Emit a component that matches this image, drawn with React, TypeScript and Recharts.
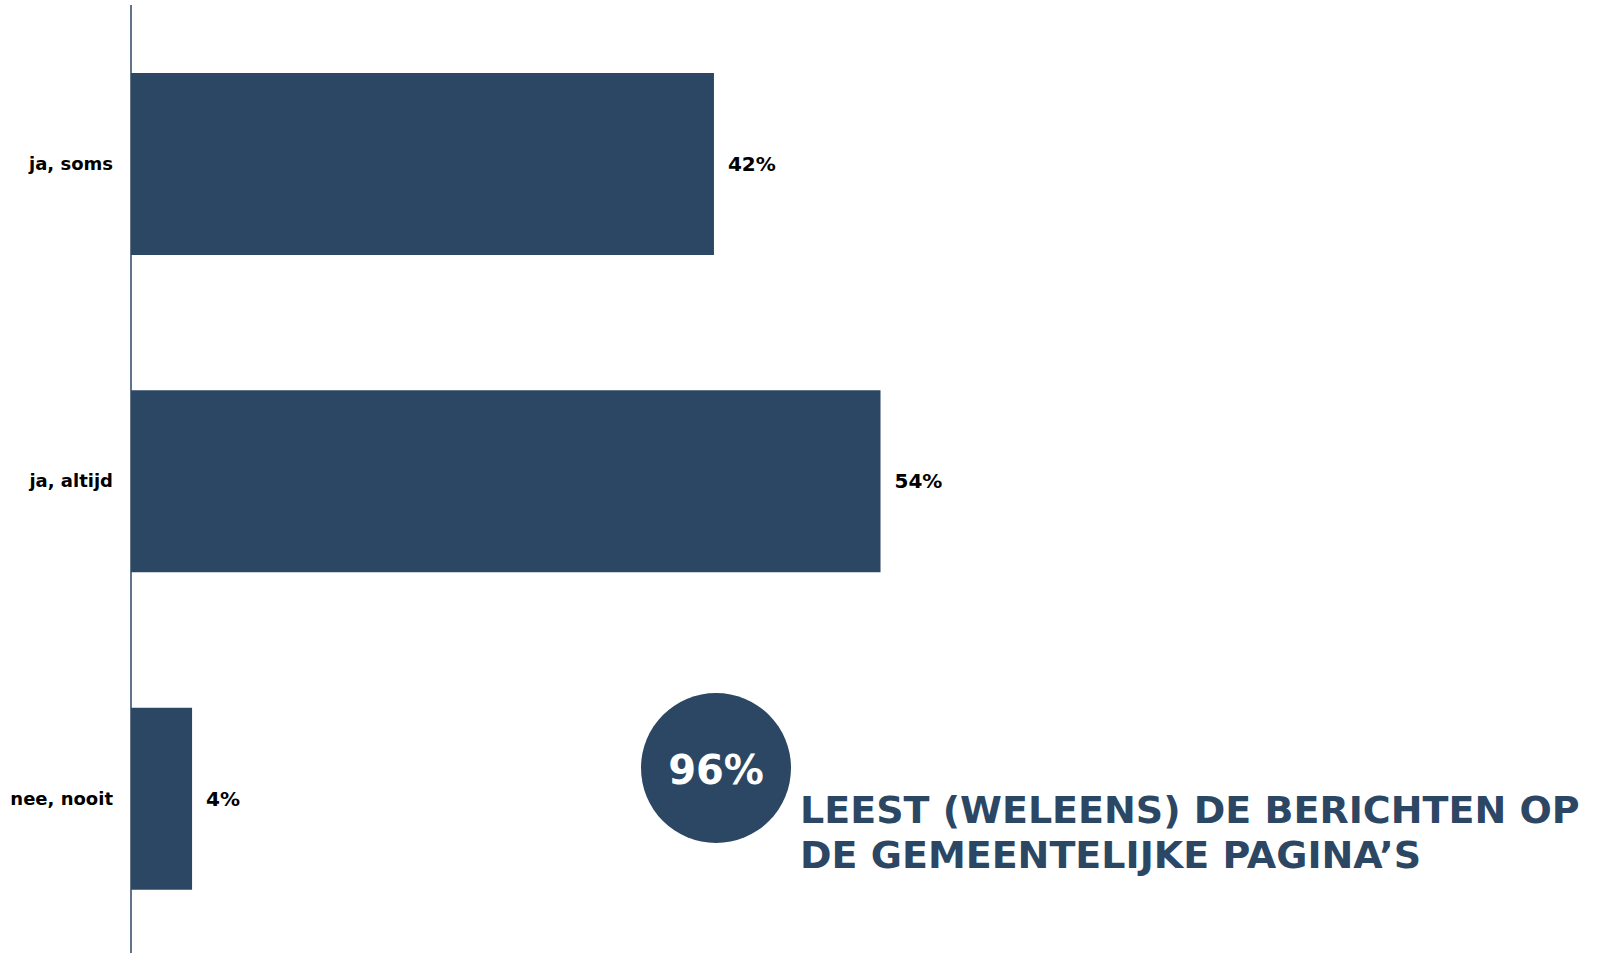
import React from 'react';
import { BarChart, Bar, XAxis, YAxis, LabelList } from 'recharts';

const categories = ['ja, soms', 'ja, altijd', 'nee, nooit'];
const shares = [42, 54, 4.4];

const headline = '96%';
const captionLines = ['LEEST (WELEENS) DE BERICHTEN OP', 'DE GEMEENTELIJKE PAGINA\u2019S'];

const NAVY = '#2C4763';
const FONT = '"DejaVu Sans", Verdana, sans-serif';

const App: React.FC = () => {
  const chartData = categories.map((name, i) => ({ name, value: shares[i] }));

  return (
    <div style={{ position: 'absolute', left: 0, top: 0, width: 1599, height: 953, overflow: 'hidden', background: '#fff', fontFamily: FONT }}>
      <BarChart
        width={1599}
        height={957}
        data={chartData}
        layout="vertical"
        margin={{ top: 5, right: 80, left: 0, bottom: 0 }}
      >
        <XAxis type="number" domain={[0, 100]} hide />
        <YAxis
          type="category"
          dataKey="name"
          width={131}
          axisLine={{ stroke: NAVY, strokeWidth: 1.5 }}
          tickLine={false}
          tickSize={6}
          tickMargin={12}
          tick={{ fill: '#000', fontSize: 18, fontWeight: 'bold', fontFamily: FONT }}
        />
        <Bar dataKey="value" fill={NAVY} barSize={182} isAnimationActive={false}>
          <LabelList
            dataKey="value"
            position="right"
            offset={14}
            formatter={(v: any) => `${Math.round(Number(v))}%`}
            style={{ fill: '#000', fontSize: 20, fontWeight: 'bold', fontFamily: FONT }}
          />
        </Bar>
      </BarChart>

      {/* summary badge + caption */}
      <svg width={1599} height={953} style={{ position: 'absolute', left: 0, top: 0, pointerEvents: 'none' }}>
        <circle cx={716} cy={768} r={75} fill={NAVY} />
        <text x={716} y={784} textAnchor="middle" fill="#fff" fontSize={40} fontWeight="bold" fontFamily={FONT}>
          {headline}
        </text>
        {captionLines.map((line, i) => (
          <text key={line} x={800} y={823 + i * 45} fill={NAVY} fontSize={38} fontWeight="bold" fontFamily={FONT}>
            {line}
          </text>
        ))}
      </svg>
    </div>
  );
};

export default App;
